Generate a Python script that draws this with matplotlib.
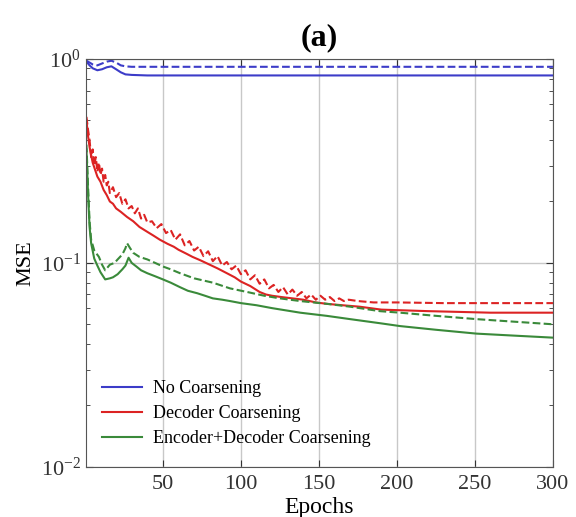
import matplotlib
matplotlib.use('Agg')
import matplotlib.pyplot as plt
from matplotlib.ticker import LogLocator, NullFormatter

plt.rcParams['font.family'] = ['Liberation Serif', 'DejaVu Serif']
plt.rcParams['mathtext.fontset'] = 'stix'

# values (epoch, MSE)
blue_ep = [1, 3, 5, 8, 11, 14, 17, 20, 23, 26, 30, 40, 60, 100, 150, 200, 250, 300]
blue_solid = [0.97, 0.93, 0.90, 0.88, 0.89, 0.91, 0.92, 0.89, 0.86, 0.84, 0.835, 0.83, 0.83, 0.83, 0.83, 0.83, 0.83, 0.83]
blue_dash_ep = [1, 3, 5, 8, 11, 14, 17, 20, 23, 26, 30, 40, 60, 100, 150, 200, 250, 300]
blue_dash = [0.98, 0.96, 0.94, 0.93, 0.95, 0.97, 0.98, 0.96, 0.93, 0.92, 0.915, 0.915, 0.915, 0.915, 0.915, 0.915, 0.915, 0.915]

red_ep = [1, 2, 3, 5, 8, 10, 12, 14, 16, 18, 20, 23, 27, 31, 35, 40, 44, 48, 53, 57, 60, 65, 69,
          74, 80, 85, 91, 96, 100, 106, 112, 116, 120, 126, 133, 140, 148, 155, 165, 176, 190,
          205, 220, 240, 260, 280, 300]
red_solid = [0.50, 0.42, 0.37, 0.31, 0.265, 0.25, 0.228, 0.215, 0.20, 0.195, 0.185, 0.178, 0.168,
             0.16, 0.15, 0.142, 0.136, 0.13, 0.124, 0.12, 0.116, 0.111, 0.107, 0.103, 0.098,
             0.094, 0.089, 0.085, 0.081, 0.077, 0.072, 0.070, 0.069, 0.068, 0.067, 0.066, 0.064,
             0.063, 0.062, 0.061, 0.059, 0.0585, 0.058, 0.0575, 0.057, 0.057, 0.057]

red_dash_ep = [1, 2, 3, 4, 5, 6, 7, 8, 9, 10, 11, 12, 13, 14, 15, 16, 18, 20, 22, 24, 26, 28, 30,
               32, 34, 36, 38, 40, 43, 46, 49, 52, 55, 58, 61, 64, 67, 70, 73, 76, 79, 82, 85,
               88, 91, 94, 97, 100, 103, 106, 109, 112, 115, 118, 121, 124, 127, 130, 133, 136,
               139, 142, 145, 148, 151, 154, 157, 160, 163, 166, 169, 175, 185, 200, 230, 260, 300]
red_dash = [0.52, 0.45, 0.40, 0.33, 0.36, 0.30, 0.33, 0.28, 0.31, 0.27, 0.29, 0.25, 0.27, 0.24,
            0.25, 0.22, 0.235, 0.21, 0.22, 0.195, 0.205, 0.185, 0.19, 0.175, 0.185, 0.165, 0.172,
            0.158, 0.16, 0.148, 0.155, 0.14, 0.145, 0.13, 0.138, 0.122, 0.128, 0.115, 0.12, 0.108,
            0.114, 0.102, 0.108, 0.097, 0.101, 0.093, 0.097, 0.088, 0.092, 0.083, 0.087, 0.079,
            0.083, 0.075, 0.078, 0.072, 0.076, 0.070, 0.074, 0.069, 0.072, 0.067, 0.070, 0.066,
            0.069, 0.066, 0.068, 0.065, 0.067, 0.065, 0.066, 0.065, 0.064, 0.064, 0.0635,
            0.0635, 0.0635]

green_ep = [1, 2, 3, 4, 6, 8, 10, 13, 16, 18, 21, 24, 26, 28, 30, 33, 36, 40, 45, 50, 55, 61,
            66, 72, 77, 82, 88, 93, 100, 110, 120, 138, 155, 170, 190, 202, 225, 251, 275, 300]
green_solid = [0.36, 0.22, 0.15, 0.125, 0.105, 0.097, 0.09, 0.083, 0.084, 0.085, 0.088, 0.093,
               0.097, 0.106, 0.1, 0.096, 0.092, 0.089, 0.086, 0.083, 0.08, 0.076, 0.073, 0.071,
               0.069, 0.067, 0.066, 0.065, 0.0635, 0.062, 0.060, 0.057, 0.055, 0.053, 0.0505,
               0.049, 0.047, 0.045, 0.044, 0.043]
green_dash_ep = [1, 2, 3, 4, 6, 9, 11, 13, 16, 19, 21, 24, 26, 27, 29, 31, 35, 40, 45, 50, 55,
                 61, 70, 82, 93, 104, 115, 125, 138, 155, 170, 189, 202, 225, 251, 275, 300]
green_dash = [0.38, 0.24, 0.16, 0.13, 0.115, 0.107, 0.098, 0.092, 0.098, 0.1, 0.104, 0.11, 0.118,
              0.125, 0.118, 0.112, 0.107, 0.104, 0.1, 0.096, 0.093, 0.089, 0.084, 0.08, 0.075,
              0.072, 0.069, 0.067, 0.065, 0.063, 0.061, 0.058, 0.057, 0.055, 0.053, 0.0515, 0.05]

series_labels = ['No Coarsening', 'Decoder Coarsening', 'Encoder+Decoder Coarsening']
x_ticks = [50, 100, 150, 200, 250, 300]

c_blue = '#3c3cc8'
c_red = '#dc2323'
c_green = '#3a8a3a'

fig = plt.figure(figsize=(5.76, 5.17), dpi=100)
ax = fig.add_axes([0.149, 0.097, 0.811, 0.789])

ax.plot(blue_ep, blue_solid, color=c_blue, lw=1.5, label=series_labels[0])
ax.plot(blue_dash_ep, blue_dash, color=c_blue, lw=1.5, ls='--')
ax.plot(red_ep, red_solid, color=c_red, lw=1.5, label=series_labels[1])
ax.plot(red_dash_ep, red_dash, color=c_red, lw=1.5, ls='--')
ax.plot(green_ep, green_solid, color=c_green, lw=1.5, label=series_labels[2])
ax.plot(green_dash_ep, green_dash, color=c_green, lw=1.5, ls='--')

ax.set_yscale('log')
ax.set_ylim(1e-2, 1)
ax.set_xlim(0.6, 300)
ax.set_xticks(x_ticks)
ax.yaxis.set_major_locator(LogLocator(base=10, numticks=5))
ax.yaxis.set_minor_locator(LogLocator(base=10, subs=range(2, 10), numticks=20))
ax.yaxis.set_minor_formatter(NullFormatter())
ax.tick_params(which='both', direction='in', top=True, right=True, labelsize=16, colors='#333333')
ax.tick_params(axis='x', pad=6)
ax.tick_params(which='major', length=5)
ax.tick_params(which='minor', length=3)
ax.grid(True, which='major', color='#c8c8c8', lw=1)
for s in ax.spines.values():
    s.set_color('#555555')

ax.set_xlabel('Epochs', fontsize=17, labelpad=2)
ax.set_ylabel('MSE', fontsize=16)
ax.set_title('(a)', fontsize=23, fontweight='bold', pad=10)

leg = ax.legend(loc='lower left', frameon=False, fontsize=13, handlelength=2.2,
                handletextpad=0.6, labelspacing=0.45, bbox_to_anchor=(0.0, 0.008))

fig.savefig('out.png', dpi=100)
